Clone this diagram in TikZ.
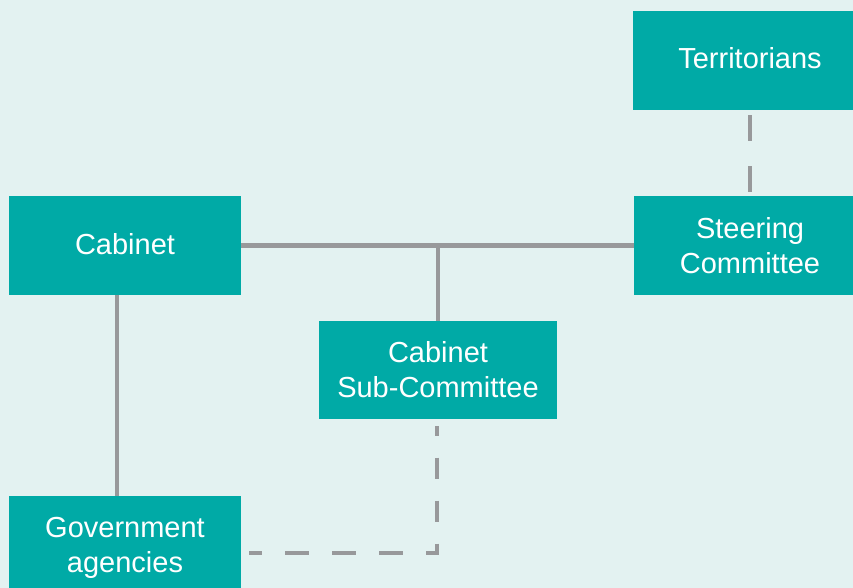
\documentclass[tikz,border=0pt]{standalone}
\usepackage{fontspec}
\setmainfont{Liberation Sans}
\definecolor{bgcol}{HTML}{E3F2F1}
\definecolor{boxcol}{HTML}{00AAA6}
\definecolor{linecol}{HTML}{98999B}
\begin{document}
\begin{tikzpicture}[x=1pt,y=-1pt,
  orgbox/.style={fill=boxcol, text=white, inner sep=0pt, align=center,
    minimum width=232pt, minimum height=99pt,
    font=\fontsize{29}{35}\selectfont},
  solidline/.style={draw=linecol, line width=4.5pt},
  dashline/.style={draw=linecol, line width=4.5pt}]
\fill[bgcol] (0,0) rectangle (853,588);
\useasboundingbox (0,0) rectangle (853,588);
\node[orgbox, minimum width=234pt, text depth=6pt] (terr) at (750,60.5) {Territorians};
\node[orgbox] (steer) at (750,245.5) {Steering\\Committee};
\node[orgbox, text depth=4pt] (cab) at (125,245.5) {Cabinet};
\node[orgbox, minimum width=238pt, minimum height=98pt] (sub) at (438,370) {Cabinet\\Sub-Committee};
\node[orgbox, minimum height=103pt] (gov) at (125,547.5) {Government\\agencies};
\coordinate (corner) at ([xshift=-1pt]sub.south |- 0,553);
\draw[solidline] (cab.east) -- (steer.west);
\draw[solidline] (sub.north) -- (sub.north |- cab.east);
\draw[solidline] ([xshift=-8pt]cab.south) -- ([xshift=-8pt]gov.north);
\draw[dashline, dash pattern=on 26pt off 25pt, shorten <=5pt, shorten >=4pt] (terr.south) -- (steer.north);
\draw[dashline, dash pattern=on 24pt off 23pt, dash phase=11pt, shorten <=8pt] (gov.east |- corner) -- (corner);
\draw[dashline, dash pattern=on 21.5pt off 21.5pt, dash phase=11.5pt, shorten <=7pt, shorten >=-2.25pt] ([xshift=-1pt]sub.south) -- (corner);
\end{tikzpicture}
\end{document}
